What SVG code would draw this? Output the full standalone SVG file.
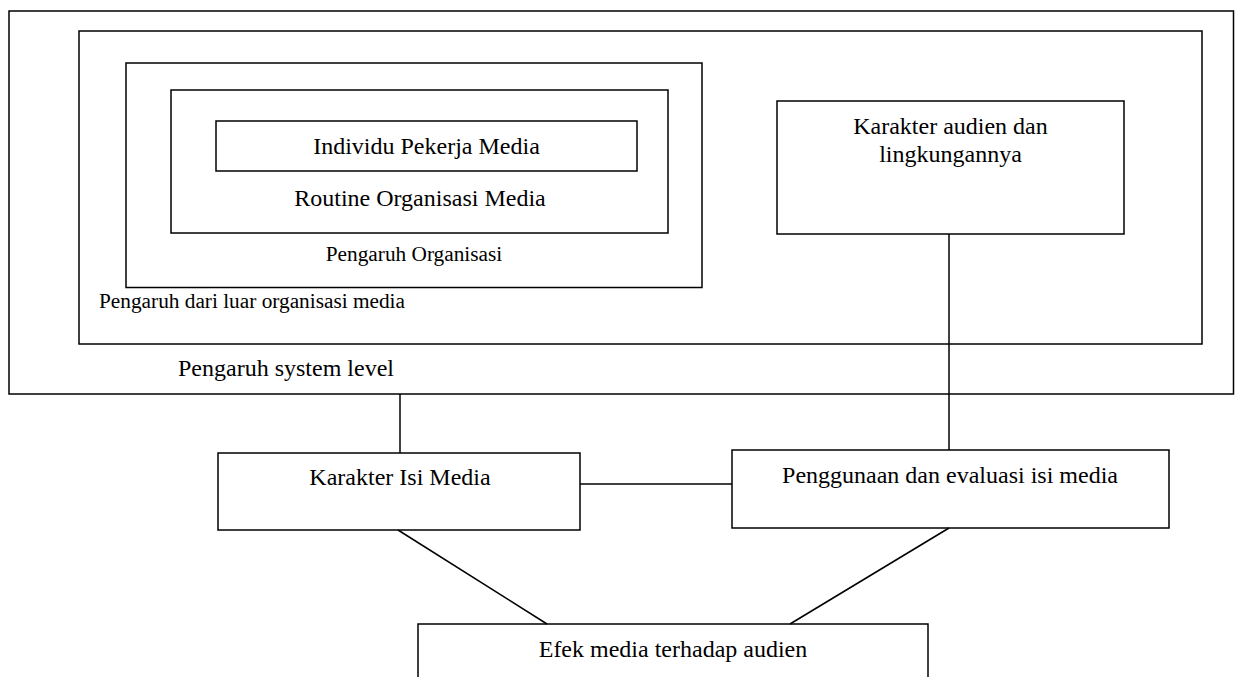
<svg xmlns="http://www.w3.org/2000/svg" width="1235" height="677" viewBox="0 0 1235 677">
<style>
.box{fill:none;stroke:#000;stroke-width:1.5}
.wbox{fill:#fff;stroke:#000;stroke-width:1.5}
.con{stroke:#000;stroke-width:1.5;fill:none}
text{font-family:"Liberation Serif","Times New Roman",serif;fill:#000}
.t{font-size:24px}
.s{font-size:21.3px}
.m{text-anchor:middle}
</style>
<rect width="1235" height="677" fill="#fff"/>
<g id="system-level">
<rect class="box" x="9" y="11" width="1224.5" height="383"/>
<text class="t" x="178" y="376">Pengaruh system level</text>
</g>
<g id="luar-organisasi">
<rect class="box" x="79" y="31" width="1123" height="313"/>
<text class="s" x="99" y="308">Pengaruh dari luar organisasi media</text>
</g>
<g id="pengaruh-organisasi">
<rect class="box" x="126" y="63" width="576" height="224.5"/>
<text class="s m" x="414" y="261">Pengaruh Organisasi</text>
</g>
<g id="routine">
<rect class="box" x="171" y="90" width="497" height="143"/>
<text class="t m" x="420" y="206">Routine Organisasi Media</text>
</g>
<g id="individu">
<rect class="box" x="216" y="121" width="421" height="50"/>
<text class="t m" x="426.5" y="154">Individu Pekerja Media</text>
</g>
<g id="karakter-audien">
<rect class="box" x="777" y="101" width="347" height="133"/>
<text class="t m" x="950.5" y="134">Karakter audien dan</text>
<text class="t m" x="950.5" y="162">lingkungannya</text>
</g>
<g id="connectors">
<line class="con" x1="949" y1="234" x2="949" y2="450"/>
<line class="con" x1="400" y1="394" x2="400" y2="453"/>
<line class="con" x1="580" y1="484" x2="732" y2="484"/>
<line class="con" x1="398" y1="530" x2="547" y2="624"/>
<line class="con" x1="949" y1="528" x2="790" y2="624"/>
</g>
<g id="karakter-isi-media">
<rect class="box" x="218" y="453" width="362" height="77"/>
<text class="t m" x="400" y="485">Karakter Isi Media</text>
</g>
<g id="penggunaan">
<rect class="box" x="732" y="450" width="437" height="78"/>
<text class="t m" x="950" y="483">Penggunaan dan evaluasi isi media</text>
</g>
<g id="efek">
<rect class="box" x="418" y="624" width="510" height="70"/>
<text class="t m" x="673" y="657">Efek media terhadap audien</text>
</g>
</svg>
